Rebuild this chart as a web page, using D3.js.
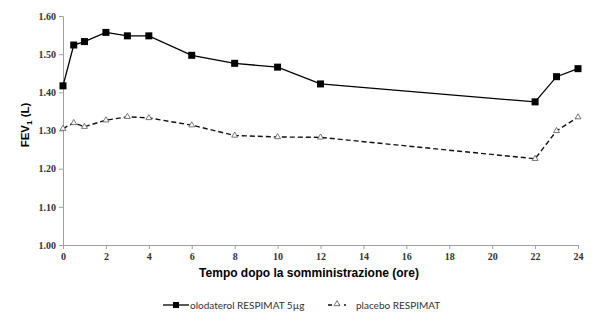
<!DOCTYPE html>
<html lang="it">
<head>
<meta charset="utf-8">
<title>FEV1</title>
<script src="https://cdnjs.cloudflare.com/ajax/libs/d3/7.8.5/d3.min.js"></script>
<style>
  body { margin: 0; background: #fff; }
  .tick text { font-family: "Liberation Serif", serif; font-weight: bold; font-size: 10px; fill: #333; }
</style>
</head>
<body>
<script>
// hours after dosing
const hours = [0, 0.5, 1, 2, 3, 4, 6, 8, 10, 12, 22, 23, 24];
const olodaterol = [1.417, 1.524, 1.533, 1.557, 1.548, 1.548, 1.497, 1.476, 1.466, 1.422, 1.375, 1.441, 1.462];
const placebo = [1.305, 1.320, 1.310, 1.327, 1.336, 1.333, 1.314, 1.287, 1.283, 1.282, 1.226, 1.299, 1.335];
const xTicks = [0, 2, 4, 6, 8, 10, 12, 14, 16, 18, 20, 22, 24];
const yTicks = [1.00, 1.10, 1.20, 1.30, 1.40, 1.50, 1.60];
const seriesNames = ["olodaterol RESPIMAT 5µg", "placebo RESPIMAT"];

const width = 595, height = 325;
const margin = {left: 63, right: 17, top: 16, bottom: 80};

const svg = d3.select("body").append("svg")
  .attr("width", width).attr("height", height);

const x = d3.scaleLinear().domain([0, 24]).range([margin.left, width - margin.right]);
const y = d3.scaleLinear().domain([1.0, 1.6]).range([height - margin.bottom, margin.top]);

// axes
const xAxis = svg.append("g")
  .attr("transform", `translate(0,${y(1.0)})`)
  .call(d3.axisBottom(x).tickValues(xTicks).tickSize(4).tickPadding(4).tickFormat(d3.format("d")));
const yAxis = svg.append("g")
  .attr("transform", `translate(${x(0)},0)`)
  .call(d3.axisLeft(y).tickValues(yTicks).tickSize(4).tickPadding(3).tickFormat(d3.format(".2f")));
[xAxis, yAxis].forEach(a => {
  a.select(".domain").attr("stroke", "#a0a0a0");
  a.selectAll(".tick line").attr("stroke", "#a0a0a0");
});

// axis titles
svg.append("text")
  .attr("x", 309).attr("y", 277)
  .attr("text-anchor", "middle")
  .style("font-family", "Liberation Sans, Arial, sans-serif")
  .style("font-weight", "bold").style("font-size", "12px")
  .text("Tempo dopo la somministrazione (ore)");

const yt = svg.append("text")
  .attr("transform", "translate(29,125) rotate(-90)")
  .attr("text-anchor", "middle")
  .style("font-family", "Liberation Sans, Arial, sans-serif")
  .style("font-weight", "bold").style("font-size", "11.5px");
yt.append("tspan").text("FEV");
yt.append("tspan").attr("dy", 3).style("font-size", "8px").text("1");
yt.append("tspan").attr("dy", -3).text(" (L)");

const line = d3.line().x((d, i) => x(hours[i])).y(d => y(d));

// placebo
svg.append("path").datum(placebo)
  .attr("d", line).attr("fill", "none")
  .attr("stroke", "#111").attr("stroke-width", 1.4)
  .attr("stroke-dasharray", "5,3");
const tri = d3.symbol().type(d3.symbolTriangle).size(15);
svg.selectAll(".tri").data(placebo).join("path")
  .attr("class", "tri")
  .attr("d", tri)
  .attr("transform", (d, i) => `translate(${x(hours[i])},${y(d)})`)
  .attr("fill", "#fff").attr("stroke", "#555").attr("stroke-width", 0.8);

// olodaterol
svg.append("path").datum(olodaterol)
  .attr("d", line).attr("fill", "none")
  .attr("stroke", "#000").attr("stroke-width", 1.3);
svg.selectAll(".sq").data(olodaterol).join("rect")
  .attr("class", "sq")
  .attr("x", (d, i) => x(hours[i]) - 3.5)
  .attr("y", d => y(d) - 3.5)
  .attr("width", 7).attr("height", 7)
  .attr("fill", "#000");

// legend
const lg = svg.append("g").style("font-family", "Lato, 'Open Sans', sans-serif").style("font-size", "10px");
lg.append("line").attr("x1", 163).attr("x2", 189).attr("y1", 305).attr("y2", 305)
  .attr("stroke", "#000").attr("stroke-width", 1.3);
lg.append("rect").attr("x", 173).attr("y", 302).attr("width", 6).attr("height", 6).attr("fill", "#000");
lg.append("text").attr("x", 190).attr("y", 308.5).attr("fill", "#333").text(seriesNames[0]);

lg.append("line").attr("x1", 328).attr("x2", 346).attr("y1", 305).attr("y2", 305)
  .attr("stroke", "#111").attr("stroke-width", 1.3).attr("stroke-dasharray", "4,4");
lg.append("path").attr("d", tri).attr("transform", "translate(337,304)")
  .attr("fill", "#fff").attr("stroke", "#555").attr("stroke-width", 0.8);
lg.append("text").attr("x", 356).attr("y", 308.5).attr("fill", "#333").text(seriesNames[1]);
</script>
</body>
</html>
